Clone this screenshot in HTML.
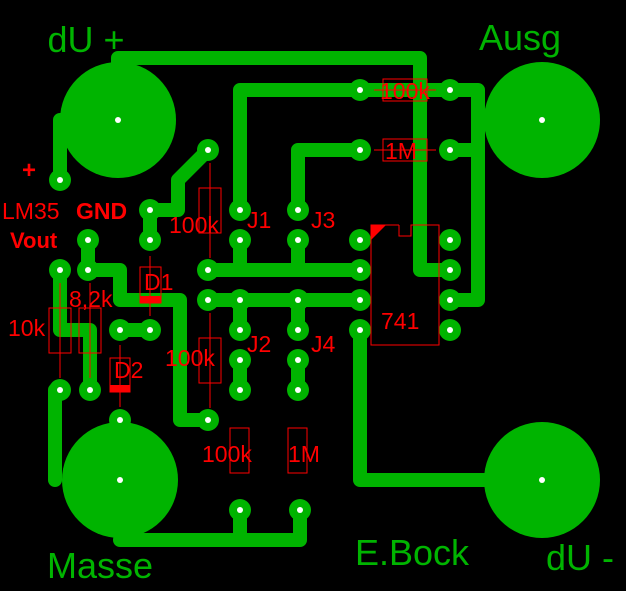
<!DOCTYPE html>
<html><head><style>html,body{margin:0;padding:0;background:#000;width:626px;height:591px;overflow:hidden}</style></head>
<body>
<svg width="626" height="591" xmlns="http://www.w3.org/2000/svg">
<rect width="626" height="591" fill="#000"/>
<g fill="none" stroke="#00b400" stroke-width="14" stroke-linejoin="round" stroke-linecap="round">
<polyline points="118,120 118,58 420,58 420,270 450,270"/>
<polyline points="60,180 60,120 90,120"/>
<polyline points="240,210 240,90 360,90"/>
<polyline points="298,210 298,150 360,150"/>
<line x1="360" y1="90" x2="450" y2="90"/>
<polyline points="450,90 478,90 478,300 450,300"/>
<line x1="450" y1="150" x2="478" y2="150"/>
<polyline points="208,150 178,180 178,210 150,210 150,240"/>
<polyline points="88,240 88,270 120,270 120,300 180,300 180,420 208,420"/>
<polyline points="60,270 60,330 90,330 90,390"/>
<polyline points="60,390 55,390 55,480"/>
<line x1="120" y1="330" x2="150" y2="330"/>
<line x1="208" y1="270" x2="360" y2="270"/>
<line x1="240" y1="240" x2="240" y2="270"/>
<line x1="298" y1="240" x2="298" y2="270"/>
<line x1="208" y1="300" x2="360" y2="300"/>
<line x1="240" y1="300" x2="240" y2="330"/>
<line x1="298" y1="300" x2="298" y2="330"/>
<line x1="240" y1="360" x2="240" y2="390"/>
<line x1="298" y1="360" x2="298" y2="390"/>
<polyline points="360,330 360,480 542,480"/>
<polyline points="120,540 300,540 300,510"/>
<line x1="240" y1="510" x2="240" y2="540"/>
</g>
<g fill="#00b400">
<circle cx="118" cy="120" r="58"/><circle cx="542" cy="120" r="58"/>
<circle cx="120" cy="480" r="58"/><circle cx="542" cy="480" r="58"/>
<circle cx="60" cy="180" r="11"/><circle cx="150" cy="210" r="11"/><circle cx="208" cy="150" r="11"/>
<circle cx="150" cy="240" r="11"/><circle cx="88" cy="240" r="11"/><circle cx="60" cy="270" r="11"/>
<circle cx="88" cy="270" r="11"/><circle cx="208" cy="270" r="11"/><circle cx="208" cy="300" r="11"/>
<circle cx="240" cy="210" r="11"/><circle cx="298" cy="210" r="11"/><circle cx="240" cy="240" r="11"/>
<circle cx="298" cy="240" r="11"/><circle cx="240" cy="300" r="11"/><circle cx="298" cy="300" r="11"/>
<circle cx="240" cy="330" r="11"/><circle cx="298" cy="330" r="11"/><circle cx="240" cy="360" r="11"/>
<circle cx="298" cy="360" r="11"/><circle cx="240" cy="390" r="11"/><circle cx="298" cy="390" r="11"/>
<circle cx="120" cy="330" r="11"/><circle cx="150" cy="330" r="11"/><circle cx="120" cy="420" r="11"/>
<circle cx="60" cy="390" r="11"/><circle cx="90" cy="390" r="11"/><circle cx="208" cy="420" r="11"/>
<circle cx="240" cy="510" r="11"/><circle cx="300" cy="510" r="11"/>
<circle cx="360" cy="240" r="11"/><circle cx="360" cy="270" r="11"/><circle cx="360" cy="300" r="11"/><circle cx="360" cy="330" r="11"/>
<circle cx="450" cy="240" r="11"/><circle cx="450" cy="270" r="11"/><circle cx="450" cy="300" r="11"/><circle cx="450" cy="330" r="11"/>
<circle cx="360" cy="90" r="11"/><circle cx="450" cy="90" r="11"/><circle cx="360" cy="150" r="11"/><circle cx="450" cy="150" r="11"/>
</g>
<g fill="#fff">
<circle cx="118" cy="120" r="3"/><circle cx="542" cy="120" r="3"/><circle cx="120" cy="480" r="3"/><circle cx="542" cy="480" r="3"/>
<circle cx="60" cy="180" r="3"/><circle cx="150" cy="210" r="3"/><circle cx="208" cy="150" r="3"/>
<circle cx="150" cy="240" r="3"/><circle cx="88" cy="240" r="3"/><circle cx="60" cy="270" r="3"/>
<circle cx="88" cy="270" r="3"/><circle cx="208" cy="270" r="3"/><circle cx="208" cy="300" r="3"/>
<circle cx="240" cy="210" r="3"/><circle cx="298" cy="210" r="3"/><circle cx="240" cy="240" r="3"/>
<circle cx="298" cy="240" r="3"/><circle cx="240" cy="300" r="3"/><circle cx="298" cy="300" r="3"/>
<circle cx="240" cy="330" r="3"/><circle cx="298" cy="330" r="3"/><circle cx="240" cy="360" r="3"/>
<circle cx="298" cy="360" r="3"/><circle cx="240" cy="390" r="3"/><circle cx="298" cy="390" r="3"/>
<circle cx="120" cy="330" r="3"/><circle cx="150" cy="330" r="3"/><circle cx="120" cy="420" r="3"/>
<circle cx="60" cy="390" r="3"/><circle cx="90" cy="390" r="3"/><circle cx="208" cy="420" r="3"/>
<circle cx="240" cy="510" r="3"/><circle cx="300" cy="510" r="3"/>
<circle cx="360" cy="240" r="3"/><circle cx="360" cy="270" r="3"/><circle cx="360" cy="300" r="3"/><circle cx="360" cy="330" r="3"/>
<circle cx="450" cy="240" r="3"/><circle cx="450" cy="270" r="3"/><circle cx="450" cy="300" r="3"/><circle cx="450" cy="330" r="3"/>
<circle cx="360" cy="90" r="3"/><circle cx="450" cy="90" r="3"/><circle cx="360" cy="150" r="3"/><circle cx="450" cy="150" r="3"/>
</g>
<g fill="none" stroke="#f00" stroke-width="1">
<line x1="210" y1="163" x2="210" y2="258"/><rect x="199" y="188" width="22" height="45"/>
<line x1="210" y1="313" x2="210" y2="408"/><rect x="199" y="338" width="22" height="45"/>
<line x1="60" y1="283" x2="60" y2="378"/><rect x="49" y="308" width="22" height="45"/>
<line x1="90" y1="283" x2="90" y2="378"/><rect x="79" y="308" width="22" height="45"/>
<line x1="150" y1="256" x2="150" y2="316"/><rect x="140" y="267" width="21" height="36"/>
<line x1="120" y1="345" x2="120" y2="407"/><rect x="110" y="358" width="20" height="34"/>
<rect x="230" y="428" width="19" height="45"/><rect x="288" y="428" width="19" height="45"/>
<line x1="374" y1="90" x2="436" y2="90"/><rect x="383" y="79" width="44" height="22"/>
<line x1="374" y1="150" x2="436" y2="150"/><rect x="383" y="139" width="44" height="22"/>
<polyline points="399,225 371,225 371,345 439,345 439,225 411,225 411,236 399,236 399,225"/>
</g>
<g fill="#f00">
<rect x="140" y="296" width="21" height="7"/><rect x="110" y="385" width="20" height="7"/>
<polygon points="371,225 386,225 371,240"/>
</g>
<g fill="#f00" font-family="Liberation Sans, sans-serif" font-size="23">
<text x="22" y="178" font-size="24" font-weight="bold">+</text>
<text x="2" y="219">LM35</text>
<text x="76" y="219" font-weight="bold">GND</text>
<text x="10" y="248" font-weight="bold" font-size="22">Vout</text>
<text x="169" y="233">100k</text>
<text x="165" y="366">100k</text>
<text x="202" y="462">100k</text>
<text x="288" y="462">1M</text>
<text x="8" y="336">10k</text>
<text x="69" y="307">8,2k</text>
<text x="144" y="290">D1</text>
<text x="114" y="378">D2</text>
<text x="247" y="228">J1</text>
<text x="311" y="228">J3</text>
<text x="247" y="352">J2</text>
<text x="311" y="352">J4</text>
<text x="380" y="99">100k</text>
<text x="385" y="159">1M</text>
<text x="381" y="329">741</text>
</g>
<g fill="#00b400" font-family="Liberation Sans, sans-serif" font-size="36" text-anchor="middle">
<text x="86" y="52">dU +</text>
<text x="520" y="50">Ausg</text>
<text x="100" y="578">Masse</text>
<text x="412" y="565">E.Bock</text>
<text x="580" y="570">dU -</text>
</g>
</svg>
</body></html>
